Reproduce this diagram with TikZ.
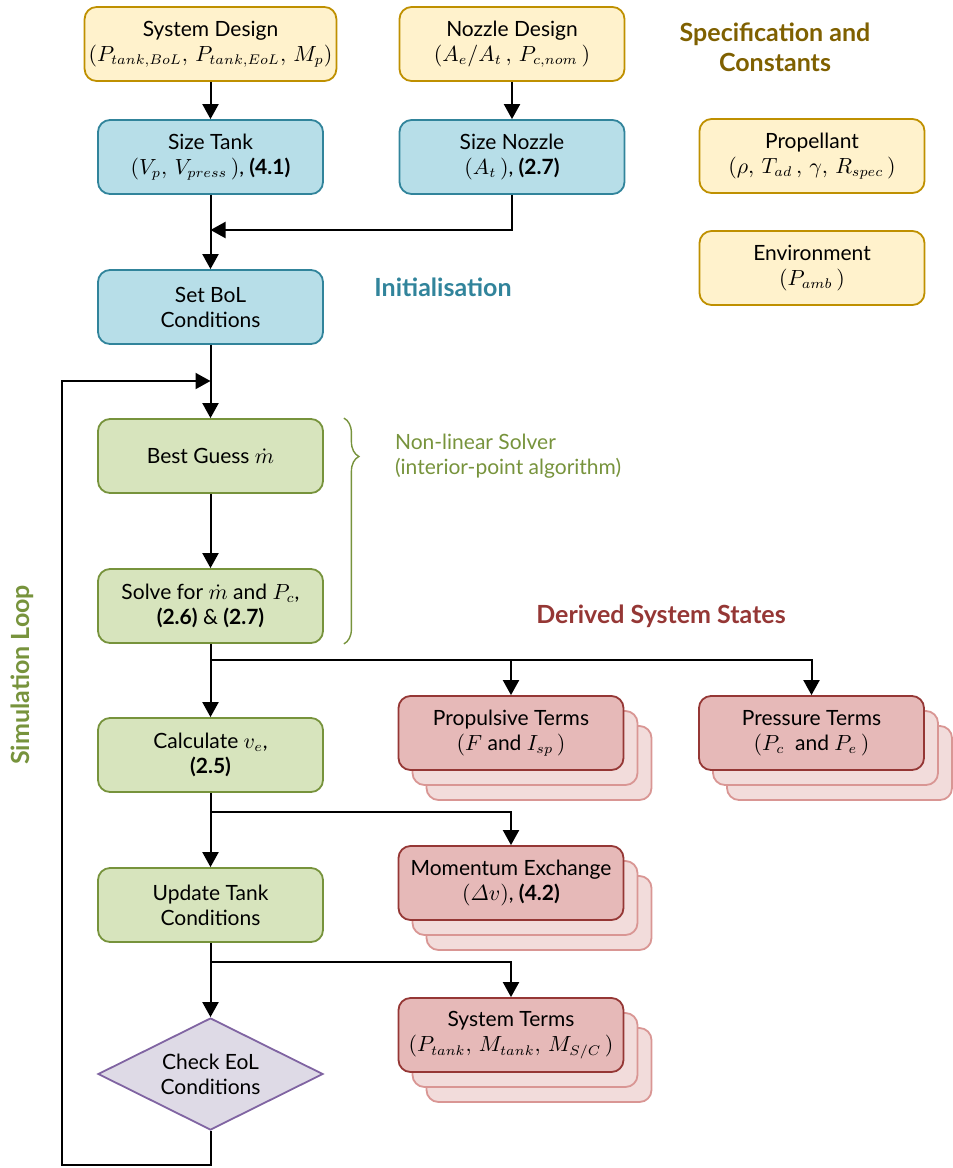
\documentclass[tikz,border=0pt]{standalone}
\usepackage{fontspec}
\usepackage{amsmath}
\setmainfont{Lato}
\usetikzlibrary{arrows.meta,shapes.geometric,shadows,decorations.pathreplacing,positioning}

\definecolor{specfill}{HTML}{FFF2CC}
\definecolor{specline}{HTML}{BF9000}
\definecolor{spectext}{HTML}{7F6000}
\definecolor{initfill}{HTML}{B7DEE8}
\definecolor{initline}{HTML}{31849B}
\definecolor{loopfill}{HTML}{D7E4BD}
\definecolor{loopline}{HTML}{77933C}
\definecolor{statefill}{HTML}{E6B9B8}
\definecolor{stateline}{HTML}{953735}
\definecolor{stackfill}{HTML}{F2DCDB}
\definecolor{stackline}{HTML}{D99694}
\definecolor{checkfill}{HTML}{DEDAE6}
\definecolor{checkline}{HTML}{8064A2}

\tikzset{
    box/.style={draw,rectangle,rounded corners=6pt,line width=0.9pt,
        minimum width=112.5pt,minimum height=37pt,align=center,inner sep=2pt,
        font=\fontsize{10.5}{12.5}\selectfont},
    specbox/.style={box,fill=specfill,draw=specline},
    initbox/.style={box,fill=initfill,draw=initline},
    loopbox/.style={box,fill=loopfill,draw=loopline},
    statebox/.style={box,fill=statefill,draw=stateline,
        double copy shadow={shadow xshift=7pt,shadow yshift=-7.5pt,
            fill=stackfill,draw=stackline,line width=0.9pt}},
    checkbox/.style={draw=checkline,fill=checkfill,diamond,aspect=2,line width=0.9pt,
        minimum width=112.5pt,minimum height=56pt,inner sep=0pt,align=center,
        font=\fontsize{10.5}{12.5}\selectfont},
    grouplabel/.style={font=\fontsize{12.5}{15}\selectfont\bfseries,align=center},
    flow/.style={-{Triangle[length=7.5pt,width=8pt]},line width=1pt}
}

\begin{document}
\begin{tikzpicture}[x=0.5pt,y=-0.5pt]
    \useasboundingbox (0,0) rectangle (953,1168);

    % specification and constants
    \node [specbox] (sysdes) at (210.5,44) {System Design\\$(P_{tank,BoL},\,P_{tank,EoL},\,M_p)$};
    \node [specbox] (nozdes) at (512,44) {Nozzle Design\\$(A_e/A_t\,,\,P_{c,nom}\,)$};
    \node [specbox] (prop) at (812,156) {Propellant\\$(\rho,\,T_{ad}\,,\,\gamma,\,R_{spec}\,)$};
    \node [specbox] (env) at (812,268) {Environment\\$(P_{amb}\,)$};
    \node [grouplabel,text=spectext] (spectitle) at (775,47) {Specification and\\Constants};

    % initialisation
    \node [initbox] (sizetank) at (210.5,157) {Size Tank\\$(V_p,\,V_{press}\,)$, \textbf{(4.1)}};
    \node [initbox] (sizenoz) at (512,157) {Size Nozzle\\$(A_t\,)$, \textbf{(2.7)}};
    \node [initbox] (setbol) at (210.5,307) {Set BoL\\Conditions};
    \node [grouplabel,text=initline] (inittitle) at (443,287) {Initialisation};

    % simulation loop
    \node [loopbox] (guess) at (210.5,456) {Best Guess $\dot{m}$};
    \node [loopbox] (solve) at (210.5,606) {Solve for $\dot{m}$ and $P_c$,\\\textbf{(2.6)} \& \textbf{(2.7)}};
    \node [loopbox] (calc) at (210.5,755) {Calculate $v_e$,\\\textbf{(2.5)}};
    \node [loopbox] (update) at (210.5,905) {Update Tank\\Conditions};
    \node [checkbox] (check) at (210.5,1074) {Check EoL\\Conditions};
    \node [grouplabel,text=loopline,rotate=90] (looptitle) at (22,675) {Simulation Loop};

    % derived states
    \node [statebox] (propterms) at (511,733) {Propulsive Terms\\$(F$ and $I_{sp}\,)$};
    \node [statebox] (pressterms) at (811.5,733) {Pressure Terms\\$(P_c$\ \ and $P_e\,)$};
    \node [statebox] (momentum) at (511,883) {Momentum Exchange\\$(\varDelta v)$, \textbf{(4.2)}};
    \node [statebox] (systerms) at (511,1035) {System Terms\\$(P_{tank},\,M_{tank},\,M_{S/C}\,)$};
    \node [grouplabel,text=stateline] (statetitle) at (661,616) {Derived System States};

    % solver brace
    \draw [loopline,line width=0.7pt,decorate,decoration={brace,amplitude=7.5pt,aspect=0.17}]
        ([xshift=10pt]guess.north east) -- ([xshift=10pt]solve.south east);
    \node [text=loopline,align=left,anchor=west,font=\fontsize{10.5}{12.5}\selectfont]
        (solver) at (388,456) {Non-linear Solver\\(interior-point algorithm)};

    % connectors
    \coordinate (merge) at (210.5,230);
    \coordinate (loopin) at (210.5,381);
    \coordinate (loopcorner) at (62,1165);
    \coordinate (branchA) at (210.5,660);
    \coordinate (branchB) at (210.5,812);
    \coordinate (branchC) at (210.5,962);

    \draw [flow] (sysdes) -- (sizetank);
    \draw [flow] (nozdes) -- (sizenoz);
    \draw [flow] (sizenoz) |- (merge);
    \draw [flow] (sizetank) -- (setbol);
    \draw [flow] (setbol) -- (guess);
    \draw [flow] (guess) -- (solve);
    \draw [flow] (solve) -- (calc);
    \draw [flow] (calc) -- (update);
    \draw [flow] (update) -- (check);
    \draw [flow] (branchA) -| (propterms);
    \draw [flow] (branchA) -| (pressterms);
    \draw [flow] (branchB) -| (momentum);
    \draw [flow] (branchC) -| (systerms);
    \draw [flow] (check) |- (loopcorner) |- (loopin);
\end{tikzpicture}
\end{document}
